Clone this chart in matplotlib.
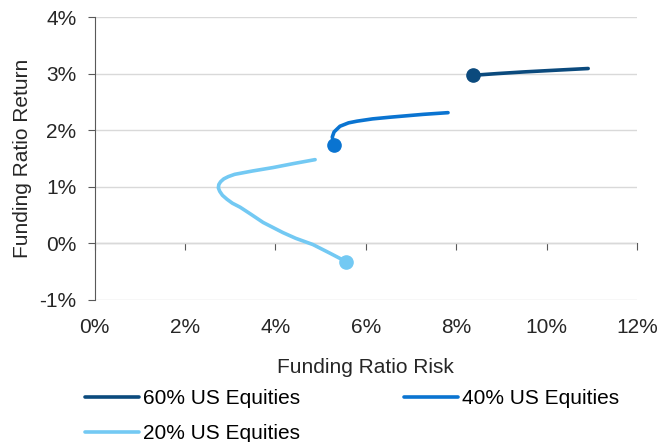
import matplotlib.pyplot as plt
from matplotlib.ticker import FuncFormatter

plt.rcParams['font.family'] = ['Liberation Sans', 'DejaVu Sans']

# risk / return paths (in %), first point is the starting allocation
risk_60 = [8.37, 8.9, 9.5, 10.2, 10.92]
ret_60 = [2.97, 3.00, 3.03, 3.06, 3.09]

risk_40 = [5.30, 5.26, 5.30, 5.43, 5.62, 5.81, 6.15, 6.54, 7.27, 7.82]
ret_40 = [1.73, 1.88, 1.97, 2.07, 2.13, 2.16, 2.20, 2.23, 2.28, 2.31]

risk_20 = [5.56, 5.20, 4.83, 4.45, 4.17, 3.73, 3.45, 3.22, 3.05, 2.93, 2.83,
           2.77, 2.74, 2.75, 2.79, 2.86, 2.96, 3.10, 3.50, 3.95, 4.40, 4.88]
ret_20 = [-0.32, -0.17, -0.02, 0.09, 0.19, 0.37, 0.52, 0.64, 0.71, 0.78, 0.85,
          0.92, 0.98, 1.04, 1.09, 1.14, 1.18, 1.22, 1.28, 1.34, 1.41, 1.48]

labels = ['60% US Equities', '40% US Equities', '20% US Equities']
colors = ['#0B4A7D', '#0A74D1', '#73C9F3']

FS = 15

fig = plt.figure(figsize=(6.59, 4.42), dpi=100)
ax = fig.add_axes([0.1434, 0.3213, 0.8232, 0.6402])

series = [(risk_60, ret_60), (risk_40, ret_40), (risk_20, ret_20)]
handles = []
for (xs, ys), lab, c in zip(series, labels, colors):
    h, = ax.plot(xs, ys, color=c, lw=2.6, solid_capstyle='round',
                 solid_joinstyle='round', label=lab, zorder=3)
    ax.plot(xs[0], ys[0], 'o', color=c, ms=9.5, zorder=4)
    handles.append(h)

ax.set_xlim(0, 12)
ax.set_ylim(-1, 4)
ax.set_xticks(range(0, 13, 2))
ax.set_yticks(range(-1, 5))
pct = FuncFormatter(lambda v, p: f'{v:.0f}%')
ax.xaxis.set_major_formatter(pct)
ax.yaxis.set_major_formatter(pct)

ax.grid(axis='y', color='#D9D9D9', lw=1, zorder=0)
ax.set_axisbelow(True)
for s in ['top', 'right', 'bottom']:
    ax.spines[s].set_visible(False)
ax.spines['left'].set_color('#595959')
ax.tick_params(axis='y', length=5, color='#595959', labelsize=FS,
               labelcolor='#262626', pad=8)
ax.tick_params(axis='x', length=0, labelsize=FS, labelcolor='#262626', pad=13)

# x axis line crossing at 0% return
sec = ax.secondary_xaxis(0.2)
sec.set_xticks(range(0, 13, 2))
sec.tick_params(axis='x', length=5, color='#595959', labelbottom=False)
sec.spines['bottom'].set_color('#595959')

ax.set_xlabel('Funding Ratio Risk', fontsize=FS, color='#262626', labelpad=15)
ax.set_ylabel('Funding Ratio Return', fontsize=FS, color='#262626', labelpad=5)

# column-major fill: 60% / 20% in first column, 40% in second
order = [0, 2, 1]
fig.legend(handles=[handles[i] for i in order], loc='upper left',
           bbox_to_anchor=(0.129, 0.12), ncol=2, frameon=False,
           fontsize=FS, handlelength=2.6, handletextpad=0.2,
           columnspacing=4.95, labelspacing=0.77,
           borderaxespad=0, borderpad=0)

fig.savefig('out.png', dpi=100)
